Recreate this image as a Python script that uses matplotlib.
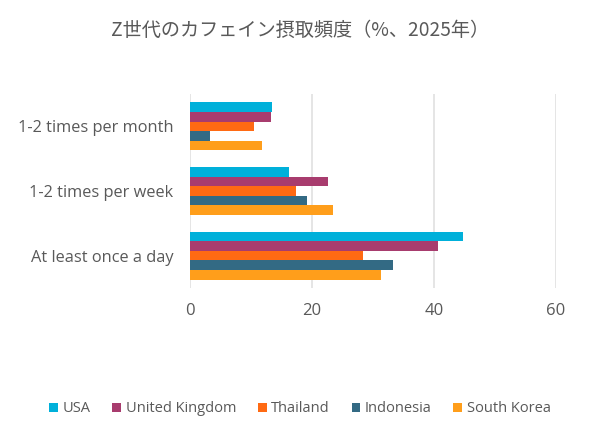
import numpy as np
import matplotlib.pyplot as plt

plt.rcParams['font.family'] = ['Open Sans', 'Noto Sans CJK JP', 'DejaVu Sans']

# Data (percent)
categories = ['At least once a day', '1-2 times per week', '1-2 times per month']
series = ['USA', 'United Kingdom', 'Thailand', 'Indonesia', 'South Korea']
usa = [44.8, 16.2, 13.4]
uk = [40.6, 22.6, 13.2]
thailand = [28.3, 17.3, 10.5]
indonesia = [33.2, 19.2, 3.3]
south_korea = [31.3, 23.4, 11.8]
values = [usa, uk, thailand, indonesia, south_korea]
colors = ['#00B0DA', '#A83C6E', '#FF6A13', '#336A84', '#FF9E1B']

fig = plt.figure(figsize=(6, 4.34), dpi=100)
ax = fig.add_axes([0.3167, 0.3364, 0.61, 0.447])

y = np.arange(len(categories))
h = 0.148
for i, (name, vals, c) in enumerate(zip(series, values, colors)):
    offset = (2 - i) * h
    ax.barh(y + offset, vals, height=h, color=c, label=name, zorder=2)

ax.set_xlim(0, 60)
ax.set_ylim(-0.5, 2.5)
ax.set_xticks([0, 20, 40, 60])
ax.set_yticks(y)
ax.set_yticklabels(categories)
ax.grid(axis='x', color='#E0E0E0', linewidth=1.2, zorder=0)
for s in ax.spines.values():
    s.set_visible(False)
ax.tick_params(axis='both', length=0, colors='#595959', labelsize=11.8)
ax.tick_params(axis='x', pad=11, labelsize=12)
ax.tick_params(axis='y', pad=12)

fig.text(0.5, 0.93, 'Z世代のカフェイン摂取頻度（%、2025年）', ha='center', va='center',
         fontsize=13.8, color='#595959', family=['Noto Sans CJK JP', 'DejaVu Sans'])

fig.legend(loc='center', bbox_to_anchor=(0.5, 0.058), ncol=5, frameon=False,
           fontsize=10.5, handlelength=0.6, handleheight=0.6, handletextpad=0.3,
           columnspacing=1.5, labelcolor='#595959')

fig.savefig('out.png', dpi=100)
